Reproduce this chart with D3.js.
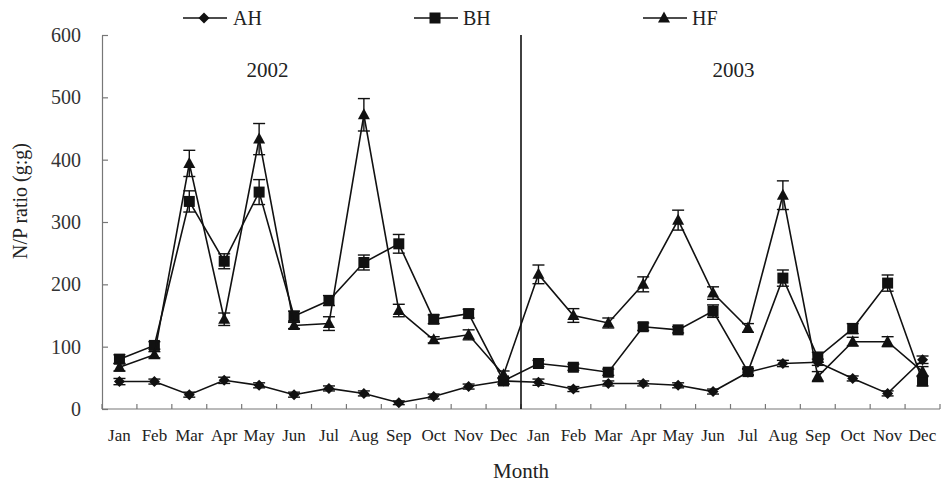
<!DOCTYPE html>
<html>
<head>
<meta charset="utf-8">
<script src="https://cdn.jsdelivr.net/npm/d3@7/dist/d3.min.js"></script>
<style>
html,body{margin:0;padding:0;background:#fff;}
</style>
</head>
<body>
<svg id="chart" width="942" height="484"></svg>
<script>
const months = ["Jan","Feb","Mar","Apr","May","Jun","Jul","Aug","Sep","Oct","Nov","Dec",
                "Jan","Feb","Mar","Apr","May","Jun","Jul","Aug","Sep","Oct","Nov","Dec"];
const years = ["2002","2003"];
const yTicks = [0,100,200,300,400,500,600];

const AH = [44,44,23,46,38,23,33,25,10,20,36,45, 43,32,41,41,38,28,59,73,75,49,25,79];
const AH_err = [5,4,4,5,4,4,4,4,3,4,4,5, 5,4,4,4,4,4,5,5,5,4,4,6];
const BH = [80,102,333,237,348,149,174,235,265,144,153,45, 73,67,59,132,127,157,60,210,83,129,202,45];
const BH_err = [7,6,17,12,20,8,8,12,15,7,7,5, 5,5,5,6,5,10,5,13,8,8,13,8];
const HF = [67,87,394,144,433,134,137,472,158,111,119,55, 216,150,138,200,303,186,130,343,52,108,108,60];
const HF_err = [6,5,21,10,25,5,11,26,10,5,8,6, 15,11,8,12,16,10,7,23,8,7,8,8];

const series = [
  {name:"AH", values:AH, err:AH_err, shape:"diamond", lx:183, tx:233},
  {name:"BH", values:BH, err:BH_err, shape:"square", lx:414, tx:463},
  {name:"HF", values:HF, err:HF_err, shape:"triangle", lx:643, tx:692}
];

const FONT = "'Liberation Serif', Tinos, 'Times New Roman', serif";
const svg = d3.select("#chart");
const mLeft = 102, mRight = 940, mTop = 35, mBottom = 409;

const x = d3.scaleBand().domain(d3.range(months.length)).range([mLeft, mRight]).padding(0);
const y = d3.scaleLinear().domain([0,600]).range([mBottom, mTop]);
const cx = i => x(i) + x.bandwidth()/2;

// axes
const yAxis = d3.axisLeft(y).tickValues(yTicks).tickSize(-6).tickPadding(21).tickSizeOuter(0);
const gy = svg.append("g").attr("transform",`translate(${mLeft},0)`).call(yAxis);
gy.attr("font-family", FONT);
gy.select(".domain").attr("stroke","#777").attr("stroke-width",1.2);
gy.selectAll(".tick line").attr("stroke","#777").attr("stroke-width",1.2);
gy.selectAll(".tick text").attr("font-family", FONT).attr("font-size",20).attr("fill","#333");

const gx = svg.append("g").attr("transform",`translate(0,${mBottom})`);
gx.append("line").attr("x1",mLeft).attr("x2",mRight).attr("y1",0).attr("y2",0).attr("stroke","#777").attr("stroke-width",1.2);
const bounds = d3.range(months.length+1).map(i => i < months.length ? x(i) : mRight);
gx.selectAll("line.t").data(bounds).join("line").attr("class","t")
  .attr("x1",d=>d).attr("x2",d=>d).attr("y1",0).attr("y2",-5).attr("stroke","#777").attr("stroke-width",1.2);
gx.selectAll("text").data(months).join("text")
  .attr("x",(d,i)=>cx(i)).attr("y",32).attr("text-anchor","middle")
  .attr("font-family", FONT).attr("font-size",17).attr("fill","#222").text(d=>d);

// divider
svg.append("line").attr("x1",x(12)).attr("x2",x(12)).attr("y1",mTop).attr("y2",mBottom)
  .attr("stroke","#111").attr("stroke-width",1.6);

function label(xp, yp, txt, size, anchor, transform){
  const t = svg.append("text").attr("font-family", FONT).attr("font-size", size).attr("fill","#222")
    .attr("text-anchor", anchor).text(txt);
  if (transform) t.attr("transform", transform); else t.attr("x", xp).attr("y", yp);
  return t;
}
// year labels
label((x(0)+x(12))/2 - 44, 77, years[0], 21, "middle");
label((x(12)+mRight)/2 + 3, 77, years[1], 21, "middle");

// axis titles
label(0,0,"N/P ratio (g:g)",20,"middle","translate(27,201) rotate(-90)");
label(521,478,"Month",21,"middle");

function marker(g, shape, px, py){
  if(shape==="diamond"){
    g.append("path").attr("d",`M${px},${py-5.5}L${px+5.5},${py}L${px},${py+5.5}L${px-5.5},${py}Z`).attr("fill","#111");
  } else if(shape==="square"){
    g.append("rect").attr("x",px-5.5).attr("y",py-5.5).attr("width",11).attr("height",11).attr("fill","#111");
  } else {
    g.append("path").attr("d",`M${px},${py-6.5}L${px+6},${py+4.5}L${px-6},${py+4.5}Z`).attr("fill","#111");
  }
}

const line = d3.line().x((d,i)=>cx(i)).y(d=>y(d));

series.forEach(s=>{
  const g = svg.append("g");
  g.append("path").datum(s.values).attr("d",line).attr("fill","none").attr("stroke","#111").attr("stroke-width",1.6);
  s.values.forEach((v,i)=>{
    const e = s.err[i], px = cx(i);
    g.append("line").attr("x1",px).attr("x2",px).attr("y1",y(v+e)).attr("y2",y(v-e)).attr("stroke","#111").attr("stroke-width",1.4);
    [v+e, v-e].forEach(t=>{
      g.append("line").attr("x1",px-6).attr("x2",px+6).attr("y1",y(t)).attr("y2",y(t)).attr("stroke","#111").attr("stroke-width",1.4);
    });
    marker(g, s.shape, px, y(v));
  });
  // legend
  const lg = svg.append("g");
  lg.append("line").attr("x1",s.lx).attr("x2",s.lx+44).attr("y1",18).attr("y2",18).attr("stroke","#111").attr("stroke-width",1.6);
  marker(lg, s.shape, s.lx+21, 18);
  label(s.tx, 25, s.name, 20, "start");
});
</script>
</body>
</html>
